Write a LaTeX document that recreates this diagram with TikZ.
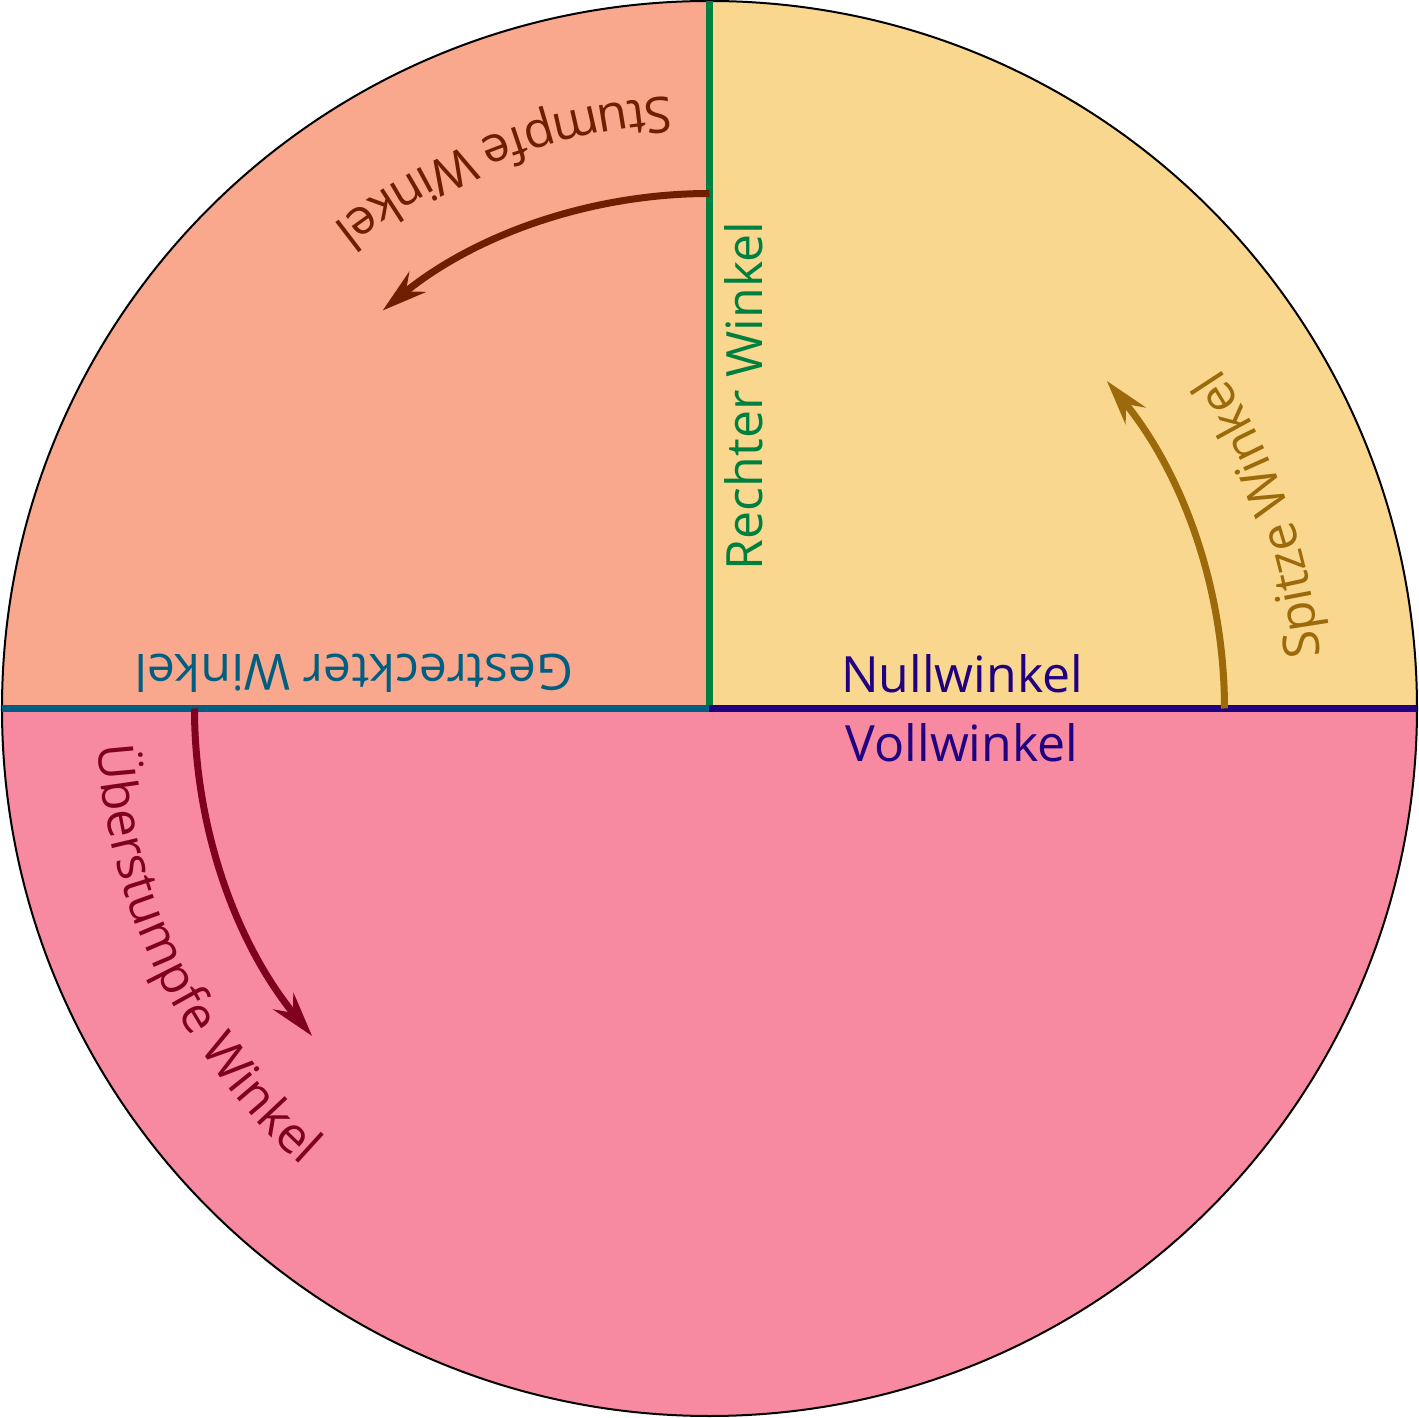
\documentclass[tikz,border=0pt]{standalone}
\usepackage{fontspec}
\setmainfont{Open Sans}
\usetikzlibrary{arrows.meta,decorations.text}

\definecolor{cyellow}{HTML}{F9D78F}
\definecolor{csalmon}{HTML}{F9A78D}
\definecolor{cpink}{HTML}{F78AA1}
\definecolor{cgreen}{HTML}{00803F}
\definecolor{cteal}{HTML}{005F80}
\definecolor{cindigo}{HTML}{200080}
\definecolor{cred}{HTML}{800020}
\definecolor{cbrown}{HTML}{6F1E00}
\definecolor{cgold}{HTML}{9C6A0A}

\newcommand{\bigsize}{\fontsize{50}{60}\selectfont}

\begin{document}
\begin{tikzpicture}[
  bigfont/.style={font=\bigsize},
  axisline/.style={line width=7.5pt},
  anglearrow/.style={line width=7pt, -{Stealth[length=45pt,width=26pt,inset=15pt]}},
]
\useasboundingbox (-709.5pt,-709.5pt) rectangle (709.5pt,708.5pt);
\coordinate (O) at (0pt,0pt);
\coordinate (E) at (0:707.5pt);
\coordinate (N) at (90:707.5pt);
\coordinate (W) at (180:707.5pt);

% sectors
\fill[cyellow] (O) -- (E) arc[start angle=0,end angle=90,radius=707.5pt] -- cycle;
\fill[csalmon] (O) -- (N) arc[start angle=90,end angle=180,radius=707.5pt] -- cycle;
\fill[cpink] (O) -- (W) arc[start angle=180,end angle=360,radius=707.5pt] -- cycle;
\draw[line width=2pt] (O) circle[radius=707.5pt];

% rays
\draw[axisline, cgreen] (O) -- (N);
\draw[axisline, cteal] (O) -- (W);
\draw[axisline, cindigo] (O) -- (E);

% arrows
\coordinate (spitzeA) at (0:515pt);
\coordinate (stumpfA) at (90:515pt);
\coordinate (ueberA) at (180:515pt);
\draw[anglearrow, cgold] (spitzeA) arc[start angle=0,end angle=39.5,radius=515pt];
\draw[anglearrow, cbrown] (stumpfA) arc[start angle=90,end angle=129.4,radius=515pt];
\draw[anglearrow, cred] (ueberA) arc[start angle=180,end angle=219.5,radius=515pt];

% curved labels
\path[decorate, decoration={text along path, text align=center,
  text={|\bigsize\color{cgold}|Spitze Winkel}}]
  (0:613pt) arc[start angle=0,end angle=38.6,radius=613pt];
\path[decorate, decoration={text along path, text align=center,
  text={|\bigsize\color{cbrown}|Stumpfe Winkel}}]
  (86:613pt) arc[start angle=86,end angle=135.6,radius=613pt];
\path[decorate, decoration={text along path, text align=center,
  text={|\bigsize\color{cred}|Überstumpfe Winkel}}]
  (176:613pt) arc[start angle=176,end angle=235.8,radius=613pt];

% straight labels
\node[bigfont, text=cindigo, anchor=base, inner sep=0pt] (null) at (252.5pt,15.5pt) {Nullwinkel};
\node[bigfont, text=cindigo, anchor=base, inner sep=0pt] (voll) at (252.5pt,-53.5pt) {Vollwinkel};
\node[bigfont, text=cgreen, anchor=base, rotate=90, inner sep=0pt] (recht) at (53.5pt,312.5pt) {Rechter Winkel};
\node[bigfont, text=cteal, anchor=base, rotate=180, inner sep=0pt] (gestreckt) at (-355.5pt,53.5pt) {Gestreckter Winkel};
\end{tikzpicture}
\end{document}
